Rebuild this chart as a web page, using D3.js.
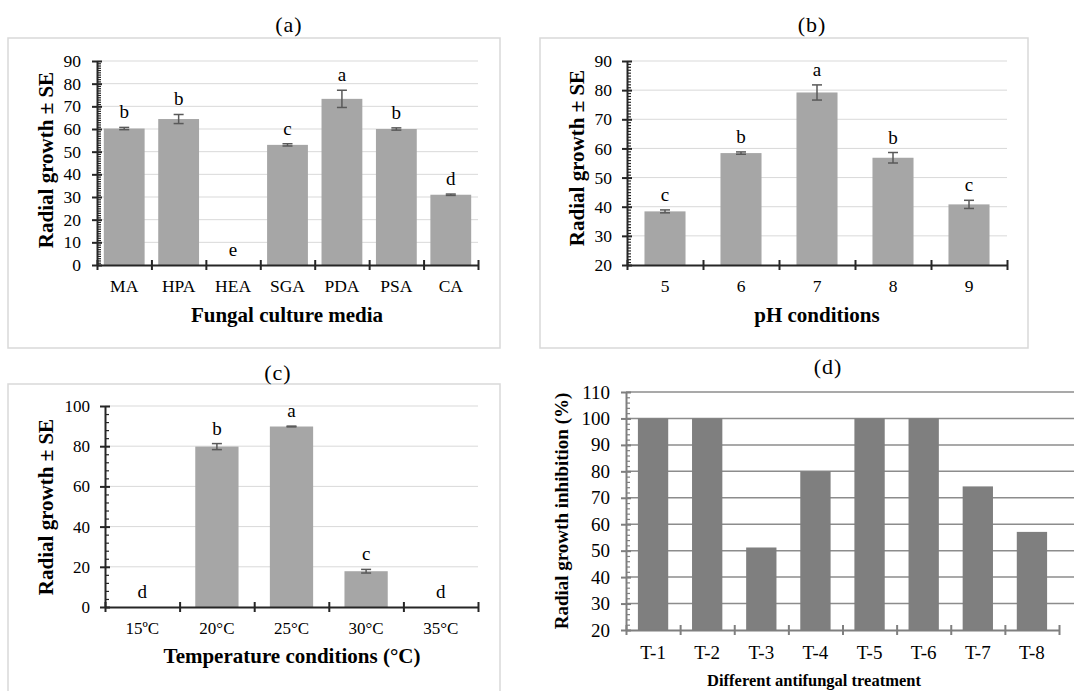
<!DOCTYPE html>
<html>
<head>
<meta charset="utf-8">
<script src="https://cdn.jsdelivr.net/npm/d3@7"></script>
<style>
  body { margin: 0; background: #fff; }
  svg text { font-family: "Liberation Serif", "Times New Roman", serif; fill: #000; }
</style>
</head>
<body>
<div id="chart"></div>
<script>

// (a) fungal culture media
var mediaNames   = ["MA", "HPA", "HEA", "SGA", "PDA", "PSA", "CA"];
var mediaGrowth  = [60.2, 64.4, 0, 53, 73.3, 60, 31];
var mediaSE      = [0.5, 2.0, 0, 0.5, 3.8, 0.5, 0.3];
var mediaLetters = ["b", "b", "e", "c", "a", "b", "d"];
var mediaTicks   = [0, 10, 20, 30, 40, 50, 60, 70, 80, 90];

// (b) pH conditions
var phNames   = ["5", "6", "7", "8", "9"];
var phGrowth  = [38.4, 58.4, 79.2, 56.8, 40.8];
var phSE      = [0.5, 0.4, 2.6, 1.8, 1.4];
var phLetters = ["c", "b", "a", "b", "c"];
var phTicks   = [20, 30, 40, 50, 60, 70, 80, 90];

// (c) temperature conditions
var tempNames   = ["15ºC", "20°C", "25°C", "30°C", "35°C"];
var tempGrowth  = [0, 79.8, 89.8, 17.8, 0];
var tempSE      = [0, 1.5, 0.2, 0.9, 0];
var tempLetters = ["d", "b", "a", "c", "d"];
var tempTicks   = [0, 20, 40, 60, 80, 100];

// (d) antifungal treatments
var treatNames      = ["T-1", "T-2", "T-3", "T-4", "T-5", "T-6", "T-7", "T-8"];
var treatInhibition = [100, 100, 51.2, 80, 100, 100, 74.3, 57.1];
var treatTicks      = [20, 30, 40, 50, 60, 70, 80, 90, 100, 110];

var svg = d3.select("#chart")
  .append("svg")
    .attr("width", 1074)
    .attr("height", 691);

function panel(o) {
  var g = svg.append("g");

  // frame around the panel
  if (o.box) {
    g.append("rect")
      .attr("x", o.box[0]).attr("y", o.box[1])
      .attr("width", o.box[2] - o.box[0]).attr("height", o.box[3] - o.box[1])
      .attr("fill", "none").attr("stroke", "#d9d9d9").attr("stroke-width", 1.5);
  }

  // panel letter
  g.append("text")
    .attr("x", o.titleX).attr("y", o.titleY)
    .attr("text-anchor", "middle")
    .style("font-size", "22px").style("letter-spacing", "1px")
    .text(o.title);

  var x = d3.scaleBand().domain(o.names).range([o.left, o.right]).padding(0);
  var y = d3.scaleLinear().domain(o.domain).range([o.bottom, o.top]);
  var base = o.domain[0];

  // gridlines
  g.append("g").selectAll("line")
    .data(o.ticks.filter(function(d) { return d > base; }))
    .join("line")
      .attr("x1", o.left).attr("x2", o.gridRight || o.right)
      .attr("y1", function(d) { return y(d); })
      .attr("y2", function(d) { return y(d); })
      .attr("stroke", o.gridColor).attr("stroke-width", o.gridWidth);

  // bars
  var bw = x.bandwidth() * o.barFrac;
  g.append("g").selectAll("rect")
    .data(o.values)
    .join("rect")
      .attr("x", function(d, i) { return x(o.names[i]) + (x.bandwidth() - bw) / 2; })
      .attr("width", bw)
      .attr("y", function(d) { return y(d); })
      .attr("height", function(d) { return y(base) - y(d); })
      .attr("fill", o.barColor);

  // error bars
  if (o.se) {
    var eb = g.append("g").attr("stroke", "#595959").attr("stroke-width", 1.5);
    o.values.forEach(function(v, i) {
      var s = o.se[i];
      if (!s) return;
      var cx = x(o.names[i]) + x.bandwidth() / 2;
      eb.append("line").attr("x1", cx).attr("x2", cx).attr("y1", y(v - s)).attr("y2", y(v + s));
      eb.append("line").attr("x1", cx - 5).attr("x2", cx + 5).attr("y1", y(v - s)).attr("y2", y(v - s));
      eb.append("line").attr("x1", cx - 5).attr("x2", cx + 5).attr("y1", y(v + s)).attr("y2", y(v + s));
    });
  }

  // significance letters
  if (o.letters) {
    g.append("g").selectAll("text")
      .data(o.letters)
      .join("text")
        .attr("x", function(d, i) { return x(o.names[i]) + x.bandwidth() / 2; })
        .attr("y", function(d, i) { return y(o.values[i] + (o.se[i] || 0)) - 9; })
        .attr("text-anchor", "middle")
        .style("font-size", "19px")
        .text(function(d) { return d; });
  }

  // y axis, major ticks crossing the line
  var yAx = g.append("g")
    .attr("transform", "translate(" + o.left + ",0)")
    .call(d3.axisLeft(y).tickValues(o.ticks).tickSize(5).tickSizeOuter(0).tickPadding(o.tickPad));
  yAx.selectAll(".tick line").attr("x1", 5);
  yAx.selectAll("path, line").attr("stroke", o.axisColor).attr("stroke-width", 2);
  yAx.selectAll("text")
    .style("font-family", "'Liberation Serif', 'Times New Roman', serif")
    .style("font-size", o.tickFont + "px").attr("fill", "#000");

  // minor ticks on the inner side
  var minor = d3.range(base, o.domain[1], o.minorStep)
    .filter(function(d) { return o.ticks.indexOf(d) < 0; });
  var mAx = g.append("g")
    .attr("transform", "translate(" + o.left + ",0)")
    .call(d3.axisRight(y).tickValues(minor).tickSize(4).tickFormat(""));
  mAx.select(".domain").remove();
  mAx.selectAll("line").attr("stroke", o.axisColor).attr("stroke-width", 1.2);

  // x axis with ticks between categories
  var n = o.names.length;
  var xi = d3.scaleLinear().domain([0, n]).range([o.left, o.right]);
  var xAx = g.append("g")
    .attr("transform", "translate(0," + o.bottom + ")")
    .call(d3.axisBottom(xi).tickValues(d3.range(n + 1)).tickSize(5).tickSizeOuter(0).tickFormat(""));
  xAx.selectAll(".tick line").attr("y1", -5);
  xAx.selectAll("path, line").attr("stroke", o.axisColor).attr("stroke-width", 2);

  // category labels
  g.append("g").selectAll("text")
    .data(o.names)
    .join("text")
      .attr("x", function(d) { return x(d) + x.bandwidth() / 2; })
      .attr("y", o.xLabelY)
      .attr("text-anchor", "middle")
      .style("font-size", o.tickFont + "px")
      .text(function(d) { return d; });

  // axis titles
  g.append("text")
    .attr("x", o.xTitleX).attr("y", o.xTitleY)
    .attr("text-anchor", "middle")
    .style("font-size", o.titleFont + "px").style("font-weight", "bold")
    .text(o.xTitle);

  g.append("text")
    .attr("transform", "translate(" + o.yTitleX + "," + o.yTitleY + ")rotate(-90)")
    .attr("text-anchor", "middle")
    .style("font-size", o.yTitleFont + "px").style("font-weight", "bold")
    .text(o.yTitle);
}

panel({
  box: [8, 38, 500, 348], title: "(a)", titleX: 289, titleY: 32,
  names: mediaNames, values: mediaGrowth, se: mediaSE, letters: mediaLetters,
  ticks: mediaTicks, domain: [0, 90], minorStep: 1,
  left: 97, right: 478, bottom: 265, top: 61,
  barFrac: 0.75, barColor: "#a6a6a6", gridColor: "#d9d9d9", gridWidth: 1,
  axisColor: "#262626", tickFont: 17.5, tickPad: 11, xLabelY: 292,
  xTitle: "Fungal culture media", xTitleX: 287, xTitleY: 322, titleFont: 21,
  yTitle: "Radial growth ± SE", yTitleX: 53, yTitleY: 160, yTitleFont: 21
});

panel({
  box: [540, 38, 1028, 348], title: "(b)", titleX: 812, titleY: 32,
  names: phNames, values: phGrowth, se: phSE, letters: phLetters,
  ticks: phTicks, domain: [20, 90], minorStep: 1,
  left: 627, right: 1007, bottom: 265, top: 61,
  barFrac: 0.54, barColor: "#a6a6a6", gridColor: "#d9d9d9", gridWidth: 1,
  axisColor: "#262626", tickFont: 17.5, tickPad: 10, xLabelY: 292,
  xTitle: "pH conditions", xTitleX: 817, xTitleY: 322, titleFont: 21,
  yTitle: "Radial growth ± SE", yTitleX: 584, yTitleY: 158, yTitleFont: 21
});

panel({
  box: [8, 384, 500, 693], title: "(c)", titleX: 278, titleY: 380,
  names: tempNames, values: tempGrowth, se: tempSE, letters: tempLetters,
  ticks: tempTicks, domain: [0, 100], minorStep: 4,
  left: 105, right: 478, bottom: 607, top: 406,
  barFrac: 0.58, barColor: "#a6a6a6", gridColor: "#d9d9d9", gridWidth: 1,
  axisColor: "#262626", tickFont: 17, tickPad: 10, xLabelY: 634,
  xTitle: "Temperature conditions (°C)", xTitleX: 292, xTitleY: 663, titleFont: 21,
  yTitle: "Radial growth ± SE", yTitleX: 53, yTitleY: 507, yTitleFont: 21
});

panel({
  box: null, title: "(d)", titleX: 828, titleY: 374,
  names: treatNames, values: treatInhibition, se: null, letters: null,
  ticks: treatTicks, domain: [20, 110], minorStep: 2,
  left: 626, right: 1059, bottom: 630, top: 392, gridRight: 1074,
  barFrac: 0.56, barColor: "#7f7f7f", gridColor: "#8c8c8c", gridWidth: 1.5,
  axisColor: "#7f7f7f", tickFont: 19, tickPad: 11, xLabelY: 659,
  xTitle: "Different antifungal treatment", xTitleX: 814, xTitleY: 686, titleFont: 16.5,
  yTitle: "Radial growth inhibition (%)", yTitleX: 568, yTitleY: 511, yTitleFont: 19
});

</script>
</body>
</html>
